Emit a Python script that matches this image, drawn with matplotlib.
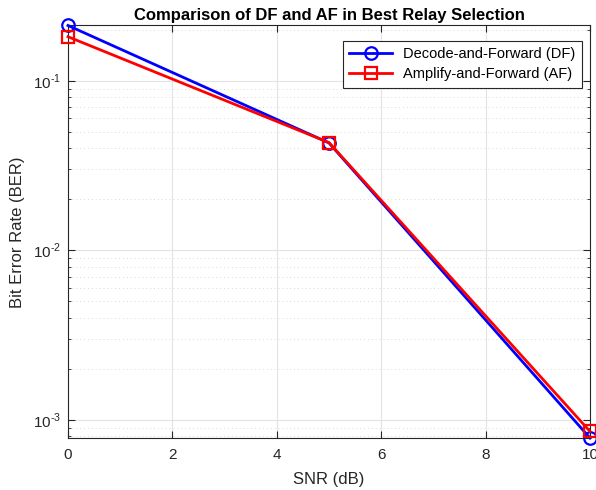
import matplotlib
matplotlib.use("Agg")
import matplotlib.pyplot as plt
from matplotlib.ticker import LogLocator, NullFormatter, FuncFormatter
import numpy as np

plt.rcParams['font.family'] = ['Liberation Sans', 'DejaVu Sans']
plt.rcParams['mathtext.fontset'] = 'custom'
plt.rcParams['mathtext.rm'] = 'Liberation Sans'
plt.rcParams['axes.unicode_minus'] = False

snr = [0, 5, 10]
ber_df = [0.212, 0.043, 0.00078]
ber_af = [0.182, 0.0432, 0.000853]

fig = plt.figure(figsize=(5.96, 4.9), dpi=100)
ax = fig.add_axes([0.114, 0.106, 0.876, 0.842])

ax.semilogy(snr, ber_df, '-o', color='#0000ff', linewidth=2, markersize=9,
            markerfacecolor='none', markeredgewidth=1.6, clip_on=False,
            zorder=3, label='Decode-and-Forward (DF)')
ax.semilogy(snr, ber_af, '-s', color='#ff0000', linewidth=2, markersize=8,
            markerfacecolor='none', markeredgewidth=1.6, clip_on=False,
            zorder=4, label='Amplify-and-Forward (AF)')

ax.set_xlim(0, 10)
ax.set_ylim(ber_df[-1], ber_df[0])
ax.set_xticks([0, 2, 4, 6, 8, 10])
ax.yaxis.set_major_locator(LogLocator(base=10, numticks=10))
ax.yaxis.set_major_formatter(FuncFormatter(lambda v, p: r'$10^{\text{-}%d}$' % abs(int(round(np.log10(v))))))
ax.yaxis.set_minor_locator(LogLocator(base=10, subs=range(2, 10), numticks=20))
ax.yaxis.set_minor_formatter(NullFormatter())

ax.grid(True, which='major', color='#e3e3e3', linewidth=0.8)
ax.grid(True, which='minor', axis='y', color='#d8d8d8', linestyle=(0, (1, 3)), linewidth=0.7)
ax.set_axisbelow(True)

ax.tick_params(which='both', direction='in', top=True, right=True, colors='#262626',
               labelsize=11, length=5)
ax.tick_params(axis='x', pad=7)
ax.tick_params(axis='y', pad=5)
ax.tick_params(which='minor', length=2.5)
for s in ax.spines.values():
    s.set_color('#262626')
    s.set_linewidth(0.8)

ax.set_xlabel('SNR (dB)', fontsize=12, color='#262626', labelpad=7)
ax.set_ylabel('Bit Error Rate (BER)', fontsize=12, color='#262626', labelpad=6)
ax.set_title('Comparison of DF and AF in Best Relay Selection', fontsize=12,
             fontweight='bold', pad=4)

leg = ax.legend(loc='upper right', bbox_to_anchor=(0.985, 0.963), fontsize=10.5,
                fancybox=False, edgecolor='#262626', framealpha=1, borderaxespad=0,
                handlelength=2.9, labelspacing=0.4, borderpad=0.45)
leg.get_frame().set_linewidth(0.8)

fig.savefig('out.png', dpi=100)
